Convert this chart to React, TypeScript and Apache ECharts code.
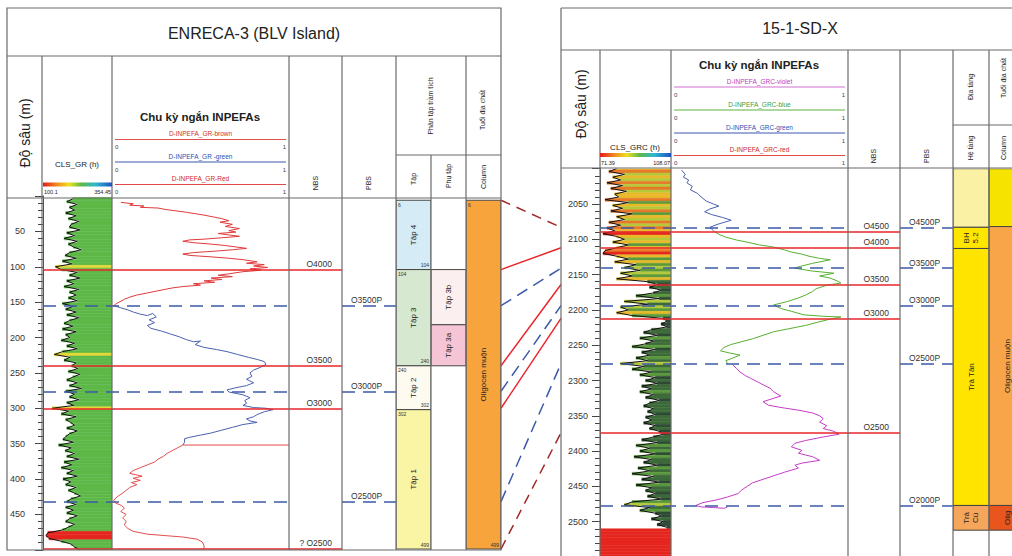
import { useEffect, useRef } from 'react';
import * as echarts from 'echarts';

const FONT = "'Liberation Sans', Arial, sans-serif";

// ---------------- depth scales ----------------
const L_DEPTH = [0, 500];
const R_DEPTH = [2000, 2550];
const DEPTH_TICK = 50;

// ---------------- GR logs ----------------
const L_GR_SCALE = [100.1, 354.45];
const R_GR_SCALE = [71.39, 108.07];
const L_GR_TOP = 4;
const L_GR_STEP = 4;
const L_GR = [
  210, 188, 226, 198, 216, 184, 222, 194, 232, 204,
  198, 236, 188, 216, 178, 226, 194, 212, 240, 198,
  182, 222, 172, 206, 146, 168, 226, 198, 236, 188,
  214, 178, 232, 198, 222, 194, 226, 172, 212, 184,
  222, 188, 232, 198, 178, 210, 172, 222, 184, 200,
  168, 216, 188, 226, 172, 142, 200, 178, 222, 206,
  228, 194, 236, 210, 188, 226, 198, 242, 184, 216,
  198, 232, 188, 214, 134, 194, 168, 222, 184, 202,
  216, 188, 226, 198, 184, 174, 212, 158, 204, 182,
  216, 188, 232, 178, 206, 168, 212, 188, 226, 174,
  202, 184, 222, 194, 216, 238, 204, 188, 222, 184,
  212, 188, 226, 198, 184, 216, 194, 172, 118, 112,
  122, 168, 204, 216, 236,
];
const R_GR_TOP = 2000;
const R_GR_STEP = 4;
const R_GR = [
  80, 76, 84, 78, 82, 75, 83, 77, 85, 79,
  81, 74, 86, 78, 83, 77, 88, 80, 84, 76,
  82, 75, 79, 73, 80, 84, 78, 86, 80, 74,
  73, 80, 86, 79, 90, 84, 92, 82, 88, 80,
  96, 101, 97, 103, 99, 90, 102, 84, 96, 82,
  86, 80, 88, 104, 106, 103, 106, 98, 94, 101,
  92, 99, 95, 88, 100, 93, 97, 90, 96, 82,
  94, 88, 98, 92, 100, 95, 101, 93, 98, 92,
  99, 95, 102, 97, 94, 99, 96, 100, 95, 98,
  94, 100, 97, 102, 104, 99, 93, 101, 90, 97,
  92, 100, 89, 98, 94, 101, 91, 97, 88, 99,
  93, 102, 90, 98, 95, 100, 96, 103, 88, 84,
  97, 92, 100, 103, 98, 104, 101, 106,
  71.4, 71.4, 71.4, 71.4, 71.4, 71.4, 71.4, 71.4, 71.4, 71.4, 71.4,
];

// ---------------- INPEFA curves [value 0..1, depth] ----------------
const L_INP_BROWN = [
  [0.05, 9], [0.12, 11], [0.1, 13], [0.18, 14], [0.16, 16], [0.26, 17], [0.3, 19], [0.36, 21], [0.42, 23],
  [0.47, 25], [0.52, 27], [0.58, 30], [0.62, 32], [0.66, 35], [0.61, 37], [0.68, 40], [0.64, 43], [0.72, 46],
  [0.66, 49], [0.7, 51], [0.6, 53], [0.66, 55], [0.72, 57], [0.62, 59], [0.52, 61], [0.44, 62], [0.4, 64],
  [0.46, 66], [0.56, 68], [0.64, 70], [0.7, 72], [0.76, 74], [0.68, 76], [0.58, 78], [0.46, 80], [0.4, 82],
  [0.44, 84], [0.56, 86], [0.66, 88], [0.74, 90], [0.82, 93], [0.76, 95], [0.86, 97], [0.8, 99], [0.88, 101],
  [0.78, 103], [0.84, 105], [0.74, 107], [0.66, 110], [0.6, 112], [0.68, 114], [0.56, 116], [0.62, 118],
  [0.52, 120], [0.58, 122], [0.46, 124], [0.5, 126], [0.4, 128], [0.34, 130], [0.3, 132], [0.26, 134],
  [0.2, 137], [0.14, 140], [0.1, 143], [0.07, 146], [0.04, 150], [0.02, 153], [0.01, 155],
];
const L_INP_GREEN = [
  [0.01, 155], [0.05, 158], [0.09, 161], [0.12, 164], [0.16, 167], [0.2, 169], [0.23, 166], [0.25, 171],
  [0.21, 175], [0.24, 179], [0.2, 183], [0.22, 187], [0.28, 191], [0.33, 195], [0.38, 199], [0.42, 203],
  [0.46, 206], [0.5, 205], [0.47, 210], [0.52, 214], [0.59, 217], [0.65, 220], [0.71, 224], [0.77, 228],
  [0.82, 231], [0.86, 234], [0.87, 238], [0.84, 242], [0.8, 246], [0.78, 250], [0.79, 255], [0.76, 259],
  [0.8, 264], [0.76, 268], [0.7, 271], [0.65, 274], [0.66, 277], [0.7, 279], [0.74, 281], [0.78, 285],
  [0.75, 289], [0.76, 293], [0.74, 296], [0.8, 299], [0.87, 300], [0.91, 302], [0.86, 305], [0.82, 309],
  [0.8, 312], [0.76, 315], [0.78, 318], [0.82, 320], [0.74, 323], [0.68, 327], [0.62, 331], [0.56, 335],
  [0.5, 338], [0.44, 341], [0.41, 343], [0.41, 348], [0.4, 352],
];
const L_INP_RED = [
  [1.0, 352], [0.4, 352], [0.37, 356], [0.34, 360], [0.31, 364], [0.29, 368], [0.26, 372], [0.24, 376],
  [0.2, 380], [0.16, 384], [0.12, 388], [0.1, 392], [0.17, 396], [0.12, 399], [0.16, 402], [0.11, 405],
  [0.14, 408], [0.1, 412], [0.08, 416], [0.06, 420], [0.03, 425], [0.01, 430], [0.02, 434], [0.05, 437],
  [0.07, 441], [0.05, 446], [0.08, 450], [0.06, 455], [0.08, 460], [0.07, 465], [0.09, 470], [0.12, 474],
  [0.2, 478], [0.3, 480], [0.4, 482], [0.48, 485], [0.51, 489], [0.52, 494], [0.52, 499],
];
const R_INP_BLUE = [
  [0.06, 2002], [0.08, 2008], [0.07, 2012], [0.1, 2016], [0.09, 2020], [0.12, 2025], [0.11, 2030],
  [0.15, 2035], [0.17, 2040], [0.2, 2046], [0.24, 2050], [0.27, 2053], [0.22, 2057], [0.19, 2061],
  [0.23, 2065], [0.29, 2069], [0.34, 2073], [0.3, 2076], [0.26, 2079], [0.22, 2083], [0.24, 2088],
];
const R_INP_GREEN = [
  [0.24, 2088], [0.27, 2093], [0.31, 2097], [0.37, 2101], [0.43, 2104], [0.5, 2108], [0.58, 2111],
  [0.64, 2115], [0.68, 2118], [0.74, 2121], [0.78, 2124], [0.84, 2127], [0.9, 2129], [0.8, 2134],
  [0.72, 2139], [0.7, 2141], [0.8, 2145], [0.92, 2148], [0.84, 2152], [0.9, 2155], [0.94, 2159],
  [0.96, 2162], [0.88, 2165], [0.82, 2170], [0.8, 2174], [0.76, 2179], [0.72, 2183], [0.66, 2188],
  [0.58, 2193], [0.62, 2198], [0.68, 2202], [0.75, 2207], [0.86, 2209], [0.96, 2210], [0.9, 2213],
  [0.82, 2218], [0.76, 2222], [0.66, 2227], [0.58, 2231], [0.52, 2236], [0.46, 2241], [0.4, 2245],
  [0.34, 2249], [0.3, 2253], [0.28, 2258], [0.33, 2261], [0.39, 2264], [0.35, 2268], [0.31, 2272], [0.32, 2276],
];
const R_INP_VIOLET = [
  [0.35, 2278], [0.37, 2283], [0.39, 2288], [0.42, 2293], [0.45, 2297], [0.49, 2302], [0.52, 2306],
  [0.56, 2311], [0.58, 2316], [0.62, 2322], [0.57, 2326], [0.52, 2330], [0.55, 2335], [0.64, 2339],
  [0.72, 2342], [0.8, 2346], [0.84, 2350], [0.86, 2354], [0.84, 2359], [0.88, 2364], [0.86, 2368],
  [0.92, 2372], [0.95, 2376], [0.86, 2380], [0.76, 2385], [0.7, 2389], [0.68, 2394], [0.74, 2399],
  [0.72, 2403], [0.8, 2408], [0.84, 2413], [0.74, 2417], [0.7, 2420], [0.72, 2424], [0.64, 2430],
  [0.58, 2435], [0.52, 2440], [0.46, 2445], [0.43, 2450], [0.4, 2455], [0.38, 2460], [0.32, 2465],
  [0.26, 2469], [0.18, 2473], [0.14, 2477], [0.17, 2479], [0.24, 2480], [0.3, 2481], [0.32, 2479],
];

// ---------------- surfaces ----------------
const L_NBS_DEPTH = [104, 240, 300, 498];
const L_NBS_NAME = ['O4000', 'O3500', 'O3000', '? O2500'];
const L_PBS_DEPTH = [155, 276, 432];
const L_PBS_NAME = ['O3500P', 'O3000P', 'O2500P'];
const R_NBS_DEPTH = [2089, 2112, 2164, 2212, 2374];
const R_NBS_NAME = ['O4500', 'O4000', 'O3500', 'O3000', 'O2500'];
const R_PBS_DEPTH = [2083, 2141, 2194, 2276, 2477];
const R_PBS_NAME = ['O4500P', 'O3500P', 'O3000P', 'O2500P', 'O2000P'];

// ---------------- zone columns ----------------
const L_TAP_NAME = ['Tập 4', 'Tập 3', 'Tập 2', 'Tập 1'];
const L_TAP_TOP = [6, 104, 240, 302];
const L_TAP_BASE = [104, 240, 302, 499];
const L_PHU_NAME = ['Tập 3b', 'Tập 3a'];
const L_PHU_TOP = [104, 182];
const L_PHU_BASE = [182, 240];
const L_AGE_NAME = ['Oligocen muộn'];
const L_AGE_TOP = [6];
const L_AGE_BASE = [499];
const R_FM_NAME = ['', 'BH\n5.2', 'Trà Tân', 'Trà\nCú'];
const R_FM_TOP = [2000, 2083, 2113, 2477];
const R_FM_BASE = [2083, 2113, 2477, 2512];
const R_AGE_NAME = ['', 'Oligocen muộn', 'Olig'];
const R_AGE_TOP = [2000, 2082, 2477];
const R_AGE_BASE = [2082, 2477, 2512];

// ---------------- correlation ----------------
const CORR_L = [6, 104, 155, 240, 276, 300, 432, 499];
const CORR_R = [2083, 2112, 2141, 2164, 2194, 2212, 2276, 2374];
const CORR_KIND = ['brown', 'red', 'blue', 'red', 'blue', 'red', 'blue', 'brown'];

// ---------------- styles ----------------
const RED = '#e8262a';
const BLUE = '#3c5aa8';
const BROWN = '#a02a2a';
const GRID_LINE = '#6b6b6b';
const L_FILL_BANDS: any[] = [[130, '#e5261f'], [155, '#e3d83a'], [245, '#5db848'], [Infinity, '#8fd19a']];
const R_FILL_BANDS: any[] = [
  [74, '#e5261f'], [78, '#e8782a'], [82, '#e9b92a'], [86, '#b5c93a'], [93, '#5a9a3c'], [100, '#3c6a38'], [Infinity, '#2d4a35'],
];
const TAP_COLORS = ['#d5ecf6', '#d6e8cf', '#fdfbf0', '#faf5a5'];
const PHU_COLORS = ['#fcefef', '#f5c5d5'];
const L_AGE_COLORS = ['#f7a43c'];
const R_FM_COLORS = ['#faf1a4', '#ffe600', '#ffe400', '#f6a65a'];
const R_AGE_COLORS = ['#f6e400', '#f7a548', '#e8561e'];
const CORR_STYLE: any = {
  red: { stroke: RED, lineWidth: 1.5 },
  blue: { stroke: BLUE, lineWidth: 1.5, lineDash: [12, 7] },
  brown: { stroke: BROWN, lineWidth: 1.5, lineDash: [10, 7] },
};

const LT = 196, LH = 353.75, RT = 168.7, RH = 388.3;

const fillRender = (bands: any[], half: number, xMax: number) => (params: any, api: any) => {
  const v = api.value(0);
  const d = api.value(1);
  const a = api.coord([v, d - half]);
  const b = api.coord([xMax, d + half]);
  const color = bands.find((bd) => v < bd[0])[1];
  return {
    type: 'rect',
    shape: { x: a[0], y: a[1], width: b[0] - a[0], height: b[1] - a[1] },
    style: { fill: color, stroke: color, lineWidth: 0.5 },
  };
};

const blockRender = (names: string[], colors: string[], nums: boolean, size = 8) => (params: any, api: any) => {
  const i = params.dataIndex;
  const top = api.value(0);
  const base = api.value(1);
  const a = api.coord([0, top]);
  const b = api.coord([1, base]);
  const w = b[0] - a[0];
  const h = b[1] - a[1];
  const children: any[] = [
    { type: 'rect', shape: { x: a[0], y: a[1], width: w, height: h }, style: { fill: colors[i], stroke: '#444', lineWidth: 1 } },
  ];
  if (names[i]) {
    children.push({
      type: 'text', x: a[0] + w / 2, y: a[1] + h / 2, rotation: Math.PI / 2,
      style: { text: names[i], fill: '#222', fontSize: size, fontFamily: FONT, align: 'center', verticalAlign: 'middle', lineHeight: size + 1 },
    });
  }
  if (nums) {
    children.push({ type: 'text', x: a[0] + 2, y: a[1] + 2, style: { text: String(top), fill: '#333', fontSize: 5, fontFamily: FONT, align: 'left', verticalAlign: 'top' } });
    children.push({ type: 'text', x: b[0] - 2, y: b[1] - 2, style: { text: String(base), fill: '#333', fontSize: 5, fontFamily: FONT, align: 'right', verticalAlign: 'bottom' } });
  }
  return { type: 'group', children };
};

const ln = (x1: number, y1: number, x2: number, y2: number, stroke = GRID_LINE, lineWidth = 1.2) => ({
  type: 'line', z: 100, silent: true, shape: { x1, y1, x2, y2 }, style: { stroke, lineWidth },
});
const tx = (x: number, y: number, text: string, o: any = {}) => ({
  type: 'text', z: 101, silent: true, x, y, rotation: o.rot ? Math.PI / 2 : 0,
  style: {
    text, fill: o.color || '#222', fontSize: o.size || 8, fontWeight: o.bold ? 'bold' : 'normal',
    fontFamily: FONT, align: o.align || 'center', verticalAlign: 'middle',
  },
});
const legend = (x1: number, x2: number, y: number, label: string, tColor: string, lColor: string) => [
  tx((x1 + x2) / 2, y, label, { color: tColor, size: 6.5 }),
  ln(x1, y + 6, x2, y + 6, lColor, 1),
  tx(x1, y + 13.5, '0', { size: 6, align: 'left', color: '#444' }),
  tx(x2, y + 13.5, '1', { size: 6, align: 'right', color: '#444' }),
];
const rainbow = () => new echarts.graphic.LinearGradient(0, 0, 1, 0, [
  { offset: 0, color: '#e31a1c' }, { offset: 0.2, color: '#f08a20' }, { offset: 0.38, color: '#f0e020' },
  { offset: 0.56, color: '#5cb848' }, { offset: 0.76, color: '#30b8d0' }, { offset: 1, color: '#2050c0' },
]);

function frame() {
  const els: any[] = [];
  // ---- left well ----
  els.push({ type: 'rect', z: 100, silent: true, shape: { x: 7, y: 8, width: 494, height: 542 }, style: { fill: 'none', stroke: GRID_LINE, lineWidth: 1.2 } });
  els.push(ln(7, 56, 501, 56), ln(7, 198, 501, 198));
  [42, 112, 289, 342, 396, 466].forEach((x) => els.push(ln(x, 56, x, 550)));
  els.push(ln(431, 155, 431, 550), ln(396, 155, 501, 155));
  els.push(tx(254, 33, 'ENRECA-3 (BLV Island)', { size: 16 }));
  els.push(tx(25, 133, 'Độ sâu (m)', { size: 14, rot: true }));
  els.push(tx(77, 164, 'CLS_GR (h)', { size: 8 }));
  els.push({ type: 'rect', z: 100, silent: true, shape: { x: 43, y: 182.5, width: 69, height: 4 }, style: { fill: rainbow() } });
  els.push(tx(44, 192, '100.1', { size: 5.5, align: 'left' }), tx(111, 192, '354.45', { size: 5.5, align: 'right' }));
  els.push(tx(200, 117, 'Chu kỳ ngắn INPEFAs', { size: 11.5, bold: true }));
  els.push(...legend(115, 286, 133.5, 'D-INPEFA_GR-brown', '#d03424', '#e05050'));
  els.push(...legend(115, 286, 156, 'D-INPEFA_GR -green', '#3050b0', '#3a5ab0'));
  els.push(...legend(115, 286, 178.5, 'D-INPEFA_GR-Red', '#d02828', '#e04848'));
  els.push(tx(315, 183, 'NBS', { size: 7, rot: true }), tx(368, 183, 'PBS', { size: 7, rot: true }));
  els.push(tx(430, 106, 'Phân tập trầm tích', { size: 7, rot: true }), tx(482, 110, 'Tuổi địa chất', { size: 7, rot: true }));
  els.push(tx(413, 179, 'Tập', { size: 7, rot: true }), tx(448, 176, 'Phụ tập', { size: 7, rot: true }), tx(483, 177, 'Column', { size: 7, rot: true }));
  // ---- right well ----
  els.push(ln(561, 8, 1012, 8), ln(561, 8, 561, 556), ln(561, 50, 1012, 50), ln(561, 168, 1012, 168));
  [600, 671, 848, 900, 953, 989].forEach((x) => els.push(ln(x, 50, x, 556)));
  els.push(ln(953, 125, 1012, 125));
  els.push(tx(800, 28, '15-1-SD-X', { size: 16 }));
  els.push(tx(581, 104, 'Độ sâu (m)', { size: 14, rot: true }));
  els.push(tx(635, 147, 'CLS_GRC (h)', { size: 8 }));
  els.push({ type: 'rect', z: 100, silent: true, shape: { x: 600, y: 153, width: 71, height: 4 }, style: { fill: rainbow() } });
  els.push(tx(601, 162.5, '71.39', { size: 5.5, align: 'left' }), tx(670, 162.5, '108.07', { size: 5.5, align: 'right' }));
  els.push(tx(759, 65, 'Chu kỳ ngắn INPEFAs', { size: 11.5, bold: true }));
  els.push(...legend(674, 845, 81, 'D-INPEFA_GRC-violet', '#c040c0', '#d070d0'));
  els.push(...legend(674, 845, 104, 'D-INPEFA_GRC-blue', '#3aa040', '#5ab040'));
  els.push(...legend(674, 845, 127, 'D-INPEFA_GRC-green', '#3050b0', '#3a5ab0'));
  els.push(...legend(674, 845, 149.5, 'D-INPEFA_GRC-red', '#d02828', '#e04848'));
  els.push(tx(873, 156, 'NBS', { size: 7, rot: true }), tx(926, 156, 'PBS', { size: 7, rot: true }));
  els.push(tx(970, 87, 'Địa tầng', { size: 7, rot: true }), tx(970, 148, 'Hệ tầng', { size: 7, rot: true }));
  els.push(tx(1003, 78, 'Tuổi địa chất', { size: 7, rot: true }), tx(1003, 148, 'Column', { size: 7, rot: true }));
  return els;
}

function buildOption(extra: any[]) {
  const G: any[] = [
    // left well
    { left: 43, width: 69, side: 'L', x: L_GR_SCALE },
    { left: 112, width: 177, side: 'L', x: [0, 1] },
    { left: 43, width: 299, side: 'L', x: [0, 1] },
    { left: 43, width: 246, side: 'L', x: [0, 1] },
    { left: 342, width: 54, side: 'L', x: [0, 1] },
    { left: 396, width: 35, side: 'L', x: [0, 1] },
    { left: 431, width: 35, side: 'L', x: [0, 1] },
    { left: 466, width: 35, side: 'L', x: [0, 1] },
    // right well
    { left: 600, width: 71, side: 'R', x: R_GR_SCALE },
    { left: 671, width: 177, side: 'R', x: [0, 1] },
    { left: 600, width: 300, side: 'R', x: [0, 1] },
    { left: 600, width: 248, side: 'R', x: [0, 1] },
    { left: 900, width: 53, side: 'R', x: [0, 1] },
    { left: 953, width: 36, side: 'R', x: [0, 1] },
    { left: 989, width: 36, side: 'R', x: [0, 1] },
  ];
  const grid = G.map((g) => ({
    left: g.left, width: g.width, top: g.side === 'L' ? LT : RT, height: g.side === 'L' ? LH : RH,
    containLabel: false, outerBoundsMode: 'none', show: false,
  }));
  const xAxis = G.map((g, i) => ({ gridIndex: i, type: 'value', min: g.x[0], max: g.x[1], show: false }));
  const depthAxis = (i: number, side: string) => {
    const vis = i === 0 || i === 8;
    const rng = side === 'L' ? L_DEPTH : R_DEPTH;
    return {
      gridIndex: i, type: 'value', inverse: true, min: rng[0], max: rng[1], interval: DEPTH_TICK,
      show: vis,
      axisLine: { show: vis, lineStyle: { color: '#555', width: 1 } },
      axisTick: { show: vis, length: 8, lineStyle: { color: '#444', width: 1 } },
      minorTick: { show: vis, splitNumber: 5, length: 5, lineStyle: { color: '#444', width: 1 } },
      axisLabel: {
        show: vis, margin: side === 'L' ? 18 : 12, fontSize: 9, color: '#333', fontFamily: FONT,
        showMinLabel: false, showMaxLabel: false, formatter: (v: number) => String(v),
      },
      splitLine: { show: false },
    };
  };
  const yAxis = G.map((g, i) => depthAxis(i, g.side));

  const mark = (xi: number, depths: number[], names: string[] | null, style: any, pos: string, dist: number[]) => ({
    type: 'line', xAxisIndex: xi, yAxisIndex: xi, data: [], silent: true, z: 6,
    markLine: {
      silent: true, symbol: ['none', 'none'], animation: false,
      lineStyle: style,
      label: { show: !!names, position: pos, formatter: '{b}', color: '#333', fontSize: 8.5, fontFamily: FONT, distance: dist },
      emphasis: { disabled: true },
      data: depths.map((d, k) => ({ yAxis: d, name: names ? names[k] : '' })),
    },
  });
  const redStyle = { color: RED, width: 1.6, type: 'solid' };
  const blueStyle = { color: BLUE, width: 1.6, type: [13, 8] };

  const curve = (xi: number, data: number[][], color: string, width = 1, z = 3) => ({
    type: 'line', xAxisIndex: xi, yAxisIndex: xi, data, symbol: 'none', showSymbol: false, silent: true, z,
    lineStyle: { color, width }, clip: true,
  });
  const block = (xi: number, tops: number[], bases: number[], names: string[], colors: string[], nums: boolean) => ({
    type: 'custom', xAxisIndex: xi, yAxisIndex: xi, silent: true, z: 2, clip: true,
    encode: { y: [0, 1] },
    data: tops.map((t, k) => [t, bases[k]]),
    renderItem: blockRender(names, colors, nums),
  });

  const lGR = L_GR.map((v, i) => [v, L_GR_TOP + i * L_GR_STEP]);
  const rGR = R_GR.map((v, i) => [v, R_GR_TOP + i * R_GR_STEP]);

  const series: any[] = [
    // left GR
    { type: 'custom', xAxisIndex: 0, yAxisIndex: 0, data: lGR, encode: { x: 0, y: 1 }, clip: true, silent: true, z: 1,
      renderItem: fillRender(L_FILL_BANDS, L_GR_STEP / 2, L_GR_SCALE[1]) },
    curve(0, lGR, '#111', 1, 2),
    // left INPEFA
    curve(1, L_INP_BROWN, '#e03a3a'),
    curve(1, L_INP_GREEN, '#4a62b0'),
    curve(1, L_INP_RED, '#e03a3a', 0.9),
    // left surfaces
    mark(2, L_NBS_DEPTH, L_NBS_NAME, redStyle, 'insideEndTop', [10, 1]),
    mark(3, L_PBS_DEPTH, null, blueStyle, 'insideEndTop', [0, 0]),
    mark(4, L_PBS_DEPTH, L_PBS_NAME, blueStyle, 'insideStartTop', [9, 1]),
    // left zones
    block(5, L_TAP_TOP, L_TAP_BASE, L_TAP_NAME, TAP_COLORS, true),
    block(6, L_PHU_TOP, L_PHU_BASE, L_PHU_NAME, PHU_COLORS, false),
    block(7, L_AGE_TOP, L_AGE_BASE, L_AGE_NAME, L_AGE_COLORS, true),
    // right GR
    { type: 'custom', xAxisIndex: 8, yAxisIndex: 8, data: rGR, encode: { x: 0, y: 1 }, clip: true, silent: true, z: 1,
      renderItem: fillRender(R_FILL_BANDS, R_GR_STEP / 2, R_GR_SCALE[1]) },
    curve(8, rGR.filter((p) => p[0] > 72), '#111', 1, 2),
    // right INPEFA
    curve(9, R_INP_BLUE, '#4a62b0'),
    curve(9, R_INP_GREEN, '#58b030'),
    curve(9, R_INP_VIOLET, '#c83cc8'),
    // right surfaces
    mark(10, R_NBS_DEPTH, R_NBS_NAME, redStyle, 'insideEndTop', [11, 1]),
    mark(11, R_PBS_DEPTH, null, blueStyle, 'insideEndTop', [0, 0]),
    mark(12, R_PBS_DEPTH, R_PBS_NAME, blueStyle, 'insideStartTop', [9, 1]),
    // right zones
    block(13, R_FM_TOP, R_FM_BASE, R_FM_NAME, R_FM_COLORS, false),
    block(14, R_AGE_TOP, R_AGE_BASE, R_AGE_NAME, R_AGE_COLORS, false),
  ];

  return {
    animation: false,
    backgroundColor: '#ffffff',
    textStyle: { fontFamily: FONT },
    grid, xAxis, yAxis, series,
    graphic: [{ type: 'group', children: [...frame(), ...extra] }],
  };
}

export default function App() {
  const ref = useRef<HTMLDivElement>(null);
  useEffect(() => {
    document.body.style.margin = '0';
    const chart = echarts.init(ref.current as HTMLDivElement, null, { renderer: 'svg' });
    chart.setOption(buildOption([]) as any);
    const lp = (d: number) => chart.convertToPixel({ yAxisIndex: 0 } as any, d) as unknown as number;
    const rp = (d: number) => chart.convertToPixel({ yAxisIndex: 8 } as any, d) as unknown as number;
    const corr = CORR_L.map((d, i) => ({
      type: 'line', z: 60, silent: true,
      shape: { x1: 501, y1: lp(d), x2: 561, y2: rp(CORR_R[i]) },
      style: CORR_STYLE[CORR_KIND[i]],
    }));
    chart.setOption(buildOption(corr) as any, { notMerge: true });
    return () => chart.dispose();
  }, []);
  return <div ref={ref} style={{ width: 1012, height: 556 }} />;
}
